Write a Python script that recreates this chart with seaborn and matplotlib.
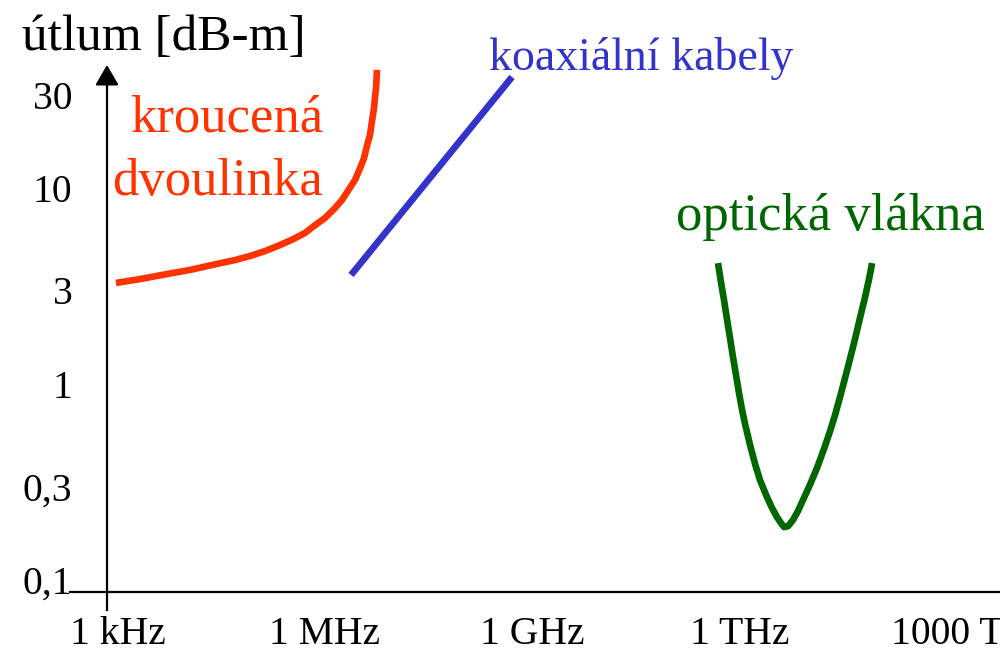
import numpy as np
import pandas as pd
import matplotlib
matplotlib.use("Agg")
import matplotlib.pyplot as plt
from matplotlib.ticker import NullLocator
from matplotlib.transforms import ScaledTranslation
import seaborn as sns

# ---- data (frequency in Hz, attenuation in dB) ----
twisted_f = [944, 2.10e3, 5.18e3, 1.11e4, 2.74e4, 4.99e4, 8.24e4, 1.36e5,
             2.24e5, 3.45e5, 5.15e5, 7.18e5, 1.00e6, 1.35e6, 1.77e6, 2.23e6,
             2.73e6, 3.22e6, 3.68e6, 4.06e6, 4.50e6, 4.80e6, 5.14e6, 5.31e6,
             5.50e6, 5.68e6]
twisted_att = [3.28, 3.43, 3.64, 3.82, 4.10, 4.29, 4.50, 4.77,
               5.12, 5.48, 5.90, 6.46, 7.03, 7.80, 8.69, 9.87,
               11.0, 12.6, 14.2, 16.4, 18.7, 21.9, 25.6, 29.1,
               32.4, 40.1]

coax_f = [2.39e6, 5.12e8]
coax_att = [3.60, 36.9]

fiber_f = [4.91e11, 5.42e11, 6.00e11, 6.62e11, 7.33e11, 8.09e11, 8.95e11,
           9.89e11, 1.09e12, 1.21e12, 1.43e12, 1.69e12, 1.99e12, 2.51e12,
           2.97e12, 3.51e12, 4.01e12, 4.44e12, 5.07e12, 5.98e12, 7.08e12,
           8.36e12, 1.05e13, 1.33e13, 1.68e13, 2.06e13, 2.43e13, 2.87e13,
           3.39e13, 4.00e13, 4.73e13, 5.58e13, 6.61e13, 7.55e13, 8.36e13]
fiber_att = [4.14, 3.31, 2.68, 2.145, 1.716, 1.372, 1.111,
             0.899, 0.745, 0.624, 0.488, 0.390, 0.323, 0.265,
             0.233, 0.209, 0.195, 0.186, 0.188, 0.202, 0.225,
             0.256, 0.305, 0.372, 0.4655, 0.575, 0.694, 0.858,
             1.072, 1.341, 1.696, 2.171, 2.778, 3.434, 4.14]

x_ticks = [1e3, 1e6, 1e9, 1e12, 1e15]
x_tick_labels = ["1 kHz", "1 MHz", "1 GHz", "1 THz", "1000 THz"]
y_ticks = [0.1, 0.3, 1, 3, 10, 30]
y_tick_labels = ["0,1", "0,3", "1", "3", "10", "30"]

title_text = "útlum [dB-m]"
twisted_label = ["kroucená", "dvoulinka"]
coax_label = "koaxiální kabely"
fiber_label = "optická vlákna"

RED = "#FF3300"
BLUE = "#3333CC"
GREEN = "#006600"

sns.set_theme(style="white")
plt.rcParams["font.family"] = ["Liberation Serif", "DejaVu Serif"]

W, H = 1000, 651
fig = plt.figure(figsize=(W / 100, H / 100), dpi=100)
ax = fig.add_axes([0, 0, 1, 1])
ax.set_facecolor("white")
ax.set_xscale("log")
ax.set_yscale("log")
ax.set_xlim(19.77, 5.94e15)
ax.set_ylim(0.04334, 91.2)

df_t = pd.DataFrame({"f": twisted_f, "a": twisted_att})
df_c = pd.DataFrame({"f": coax_f, "a": coax_att})
df_o = pd.DataFrame({"f": fiber_f, "a": fiber_att})
for df, col in [(df_t, RED), (df_c, BLUE), (df_o, GREEN)]:
    sns.lineplot(data=df, x="f", y="a", color=col, linewidth=4.8,
                 estimator=None, sort=False, ax=ax)
for ln in ax.lines:
    ln.set_solid_capstyle("butt")
    ln.set_solid_joinstyle("round")
ax.set_xlabel("")
ax.set_ylabel("")

# axes lines
for s in ["top", "right"]:
    ax.spines[s].set_visible(False)
ax.spines["left"].set_position(("data", 700))
ax.spines["bottom"].set_position(("data", 0.0867))
ax.spines["left"].set_bounds(0.0702, 36)
ax.spines["bottom"].set_bounds(203.7, 6e15)
for s in ["left", "bottom"]:
    ax.spines[s].set_color("black")
    ax.spines[s].set_linewidth(1.6)
ax.annotate("", xy=(700, 42.5), xytext=(700, 33),
            arrowprops=dict(arrowstyle="-|>,head_length=0.62,head_width=0.36",
                            mutation_scale=20, color="black", lw=1.6,
                            shrinkA=0, shrinkB=0))

ax.set_xticks(x_ticks, x_tick_labels)
ax.set_yticks(y_ticks, y_tick_labels)
ax.xaxis.set_minor_locator(NullLocator())
ax.yaxis.set_minor_locator(NullLocator())
ax.tick_params(axis="x", length=0, pad=17, labelsize=28.5, labelcolor="black")
ax.tick_params(axis="y", length=0, pad=25, labelsize=28.5, labelcolor="black")
lab = ax.get_xticklabels()[-1]
lab.set_transform(lab.get_transform() + ScaledTranslation(0.24, 0, fig.dpi_scale_trans))

def ftext(px, py, s, **kw):
    fig.text(px / W, 1 - py / H, s, va="baseline", **kw)

ftext(22, 50, title_text, fontsize=37, color="black")
ftext(323, 132, twisted_label[0], fontsize=38, color=RED, ha="right")
ftext(323, 195, twisted_label[1], fontsize=38, color=RED, ha="right")
ftext(489, 70, coax_label, fontsize=33, color=BLUE)
ftext(676, 230, fiber_label, fontsize=38, color=GREEN)

fig.savefig("out.png", dpi=100)
